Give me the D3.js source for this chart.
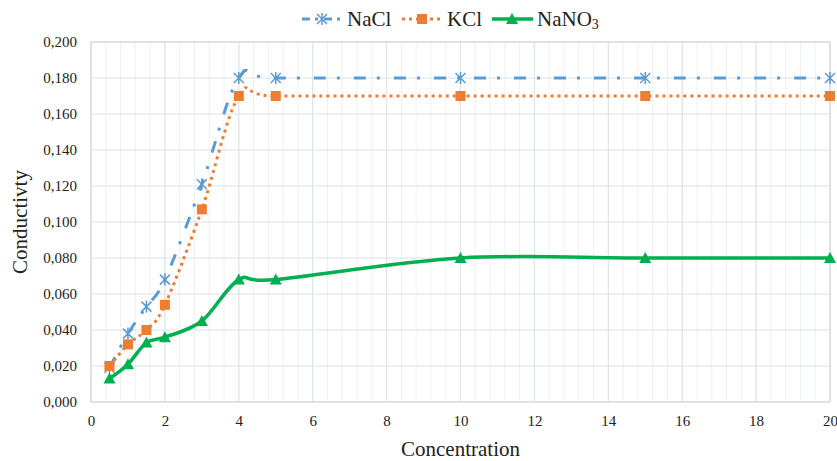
<!DOCTYPE html>
<html>
<head>
<meta charset="utf-8">
<script src="https://cdn.jsdelivr.net/npm/d3@7"></script>
<style>
  body { margin: 0; background: #fff; }
  svg text { font-family: "Liberation Serif", "Tinos", "DejaVu Serif", "Noto Serif", serif; fill: #222; }
</style>
</head>
<body>
<div id="chart"></div>
<script>
// concentration values (x) shared by all series
var conc = [0.5, 1, 1.5, 2, 3, 4, 5, 10, 15, 20];

var nacl  = [0.019, 0.038, 0.053, 0.068, 0.121, 0.180, 0.180, 0.180, 0.180, 0.180];
var kcl   = [0.020, 0.032, 0.040, 0.054, 0.107, 0.170, 0.170, 0.170, 0.170, 0.170];
var nano3 = [0.013, 0.021, 0.033, 0.036, 0.045, 0.068, 0.068, 0.080, 0.080, 0.080];

var xTicks = [0, 2, 4, 6, 8, 10, 12, 14, 16, 18, 20];
var yTicks = [0, 0.02, 0.04, 0.06, 0.08, 0.10, 0.12, 0.14, 0.16, 0.18, 0.20];

var series = [
  {name: "NaCl", values: nacl, color: "#5B9BD5", dash: "12,11,3,14", width: 3, marker: "star"},
  {name: "KCl", values: kcl, color: "#ED7D31", dash: "3,4", width: 3, marker: "square"},
  {name: "NaNO", sub: "3", values: nano3, color: "#00B050", dash: null, width: 3.5, marker: "triangle"}
];

var FONT = "'Liberation Serif', Tinos, 'DejaVu Serif', 'Noto Serif', serif";

// set the dimensions and margins of the graph
var W = 837, H = 461;
var margin = {top: 42, right: 7, bottom: 59, left: 91},
    width = W - margin.left - margin.right,
    height = H - margin.top - margin.bottom;

var svg = d3.select("#chart")
  .append("svg")
    .attr("width", W)
    .attr("height", H)
    .attr("font-family", FONT)
  .append("g")
    .attr("transform", "translate(" + margin.left + "," + margin.top + ")");

var x = d3.scaleLinear().domain([0, 20]).range([0, width]);
var y = d3.scaleLinear().domain([0, 0.2]).range([height, 0]);

var locale = d3.formatLocale({decimal: ",", thousands: ".", grouping: [3], currency: ["", ""]});
var yFmt = locale.format(".3f");

// minor vertical grid every 0.4
var minor = d3.range(0, 20.001, 0.4);
svg.append("g").selectAll("line")
  .data(minor)
  .enter().append("line")
    .attr("x1", function(d) { return x(d); })
    .attr("x2", function(d) { return x(d); })
    .attr("y1", 0).attr("y2", height)
    .attr("stroke", "#EEF0F4").attr("stroke-width", 1);

// major grid
svg.append("g").selectAll("line")
  .data(xTicks)
  .enter().append("line")
    .attr("x1", function(d) { return x(d); })
    .attr("x2", function(d) { return x(d); })
    .attr("y1", 0).attr("y2", height)
    .attr("stroke", "#DCE1E8").attr("stroke-width", 1);

svg.append("g").selectAll("line")
  .data(yTicks)
  .enter().append("line")
    .attr("x1", 0).attr("x2", width)
    .attr("y1", function(d) { return y(d); })
    .attr("y2", function(d) { return y(d); })
    .attr("stroke", "#DCE1E8").attr("stroke-width", 1);

// plot border
svg.append("rect")
  .attr("width", width).attr("height", height)
  .attr("fill", "none").attr("stroke", "#D0D5DD").attr("stroke-width", 1);

// axes (labels only)
var xAxis = svg.append("g")
  .attr("transform", "translate(0," + height + ")")
  .call(d3.axisBottom(x).tickValues(xTicks).tickSize(0).tickPadding(13).tickFormat(d3.format("d")));
var yAxis = svg.append("g")
  .call(d3.axisLeft(y).tickValues(yTicks).tickSize(0).tickPadding(14).tickFormat(yFmt));
[xAxis, yAxis].forEach(function(a) {
  a.attr("font-family", FONT).attr("font-size", 15);
  a.select(".domain").remove();
  a.selectAll("text").attr("fill", "#222");
});

// axis titles
svg.append("text")
  .attr("x", width / 2)
  .attr("y", height + 54)
  .style("text-anchor", "middle")
  .style("font-size", "21px")
  .text("Concentration");

svg.append("text")
  .attr("transform", "translate(" + (-64) + "," + (height / 2) + ") rotate(-90)")
  .style("text-anchor", "middle")
  .style("font-size", "21px")
  .text("Conductivty");

// lines
var line = d3.line()
  .x(function(d) { return x(d[0]); })
  .y(function(d) { return y(d[1]); })
  .curve(d3.curveCardinal.tension(0));

function drawMarker(g, type, color, cx, cy) {
  if (type === "square") {
    g.append("rect")
      .attr("x", cx - 5).attr("y", cy - 5).attr("width", 10).attr("height", 10)
      .attr("fill", color);
  } else if (type === "triangle") {
    g.append("path")
      .attr("d", "M" + cx + "," + (cy - 6) + "L" + (cx + 6) + "," + (cy + 5) + "L" + (cx - 6) + "," + (cy + 5) + "Z")
      .attr("fill", color);
  } else {
    var r = 5;
    g.append("path")
      .attr("d", "M" + (cx - r) + "," + (cy - r) + "L" + (cx + r) + "," + (cy + r) +
                 "M" + (cx - r) + "," + (cy + r) + "L" + (cx + r) + "," + (cy - r) +
                 "M" + cx + "," + (cy - r - 1) + "L" + cx + "," + (cy + r + 1))
      .attr("stroke", color).attr("stroke-width", 1.5).attr("fill", "none");
  }
}

series.forEach(function(s) {
  var pts = conc.map(function(c, i) { return [c, s.values[i]]; });
  svg.append("path")
    .datum(pts)
    .attr("d", line)
    .attr("fill", "none")
    .attr("stroke", s.color)
    .attr("stroke-width", s.width)
    .attr("stroke-dasharray", s.dash);
  var mg = svg.append("g");
  pts.forEach(function(p) { drawMarker(mg, s.marker, s.color, x(p[0]), y(p[1])); });
});

// legend
var legend = d3.select("svg").append("g");
var lx = [302, 402, 492];
series.forEach(function(s, i) {
  var g = legend.append("g").attr("transform", "translate(" + lx[i] + ",19)");
  g.append("line")
    .attr("x1", 0).attr("x2", 41).attr("y1", 0).attr("y2", 0)
    .attr("stroke", s.color).attr("stroke-width", s.width)
    .attr("stroke-dasharray", s.dash ? (i === 0 ? "8,5,3,6" : "3,4") : null);
  drawMarker(g, s.marker, s.color, 20, 0);
  var t = g.append("text")
    .attr("x", 45).attr("y", 7)
    .style("font-size", "21px")
    .text(s.name);
  if (s.sub) {
    t.append("tspan").attr("dy", 3).style("font-size", "14px").text(s.sub);
  }
});
</script>
</body>
</html>
